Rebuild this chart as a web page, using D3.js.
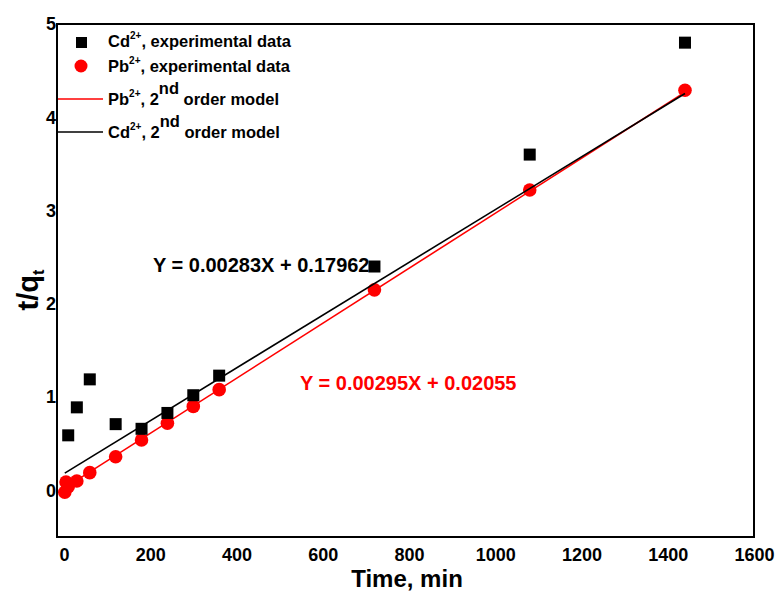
<!DOCTYPE html>
<html>
<head>
<meta charset="utf-8">
<script src="https://cdn.jsdelivr.net/npm/d3@7"></script>
<style>
  body { margin: 0; background: #fff; }
  svg { display: block; }
  text { font-family: "Liberation Sans", Arial, sans-serif; font-weight: bold; }
</style>
</head>
<body>
<svg id="chart" width="779" height="595"></svg>
<script>
// Pseudo-second-order kinetics: t/q_t versus contact time
const cdTime  = [10, 30, 60, 120, 180, 240, 300, 360, 720, 1080, 1440];
const cdValue = [0.59, 0.89, 1.19, 0.71, 0.66, 0.83, 1.02, 1.23, 2.40, 3.60, 4.80];
const pbTime  = [2, 5, 10, 30, 60, 120, 180, 240, 300, 360, 720, 1080, 1440];
const pbValue = [-0.02, 0.09, 0.04, 0.10, 0.19, 0.36, 0.54, 0.72, 0.90, 1.08, 2.15, 3.22, 4.29];

// Linear fits (slope, intercept) and the time span they cover
const fitIon       = ["Pb", "Cd"];
const fitSlope     = [0.00295, 0.00283];
const fitIntercept = [0.02055, 0.17962];
const fitColor     = ["#ff0000", "#000000"];
const fitSpan      = [2, 1440];

const xTicks = [0, 200, 400, 600, 800, 1000, 1200, 1400, 1600];
const yTicks = [0, 1, 2, 3, 4, 5];

const svg = d3.select("#chart");
const x = d3.scaleLinear().domain([-16, 1600]).range([57, 754]);
const y = d3.scaleLinear().domain([-0.5, 5]).range([537, 24]);

// Axes (labels only, no tick marks)
const xAxis = svg.append("g").attr("transform", `translate(0,${y(-0.5)})`)
  .call(d3.axisBottom(x).tickValues(xTicks).tickSize(0).tickPadding(11).tickFormat(d3.format("d")));
xAxis.select(".domain").remove();
xAxis.selectAll("text").attr("font-size", 18).attr("fill", "#000")
  .style("font-family", '"Liberation Sans", Arial, sans-serif').style("font-weight", "bold");

const yAxis = svg.append("g").attr("transform", `translate(${x(-16)},0)`)
  .call(d3.axisLeft(y).tickValues(yTicks).tickSize(0).tickPadding(1).tickFormat(d3.format("d")));
yAxis.select(".domain").remove();
yAxis.selectAll("text").attr("font-size", 18).attr("fill", "#000")
  .style("font-family", '"Liberation Sans", Arial, sans-serif').style("font-weight", "bold");

// Fitted lines
const fits = fitIon.map((ion, i) => ({ ion, slope: fitSlope[i], b: fitIntercept[i], color: fitColor[i] }));
const fitLine = d3.line().x(d => x(d[0])).y(d => y(d[1]));

function drawFit(f) {
  svg.append("path")
    .attr("d", fitLine(fitSpan.map(t => [t, f.slope * t + f.b])))
    .attr("fill", "none").attr("stroke", f.color).attr("stroke-width", 1.6);
}

drawFit(fits[0]);

// Pb2+ points
svg.append("g").selectAll("circle").data(pbTime.map((t, i) => [t, pbValue[i]])).join("circle")
  .attr("cx", d => x(d[0])).attr("cy", d => y(d[1])).attr("r", 6.8).attr("fill", "#ff0000");

// Cd2+ points
const sq = 12;
svg.append("g").selectAll("rect").data(cdTime.map((t, i) => [t, cdValue[i]])).join("rect")
  .attr("x", d => x(d[0]) - sq / 2).attr("y", d => y(d[1]) - sq / 2)
  .attr("width", sq).attr("height", sq).attr("fill", "#000");

drawFit(fits[1]);

// Frame
svg.append("rect").attr("x", x(-16)).attr("y", y(5))
  .attr("width", x(1600) - x(-16)).attr("height", y(-0.5) - y(5))
  .attr("fill", "none").attr("stroke", "#000").attr("stroke-width", 2);

// Fit equations
function fmtEq(f) {
  return `Y = ${f.slope.toFixed(5)}X + ${f.b.toFixed(5)}`;
}
svg.append("text").attr("x", 153).attr("y", 272).attr("font-size", 20).attr("fill", "#000").text(fmtEq(fits[1]));
svg.append("text").attr("x", 300).attr("y", 390).attr("font-size", 20).attr("fill", "#ff0000").text(fmtEq(fits[0]));

// Axis titles
svg.append("text").attr("x", 407).attr("y", 587).attr("text-anchor", "middle")
  .attr("font-size", 24).attr("fill", "#000").text("Time, min");

const yt = svg.append("text").attr("transform", "translate(38,290) rotate(-90)")
  .attr("text-anchor", "middle").attr("font-size", 29).attr("fill", "#000");
yt.append("tspan").text("t/q");
yt.append("tspan").attr("font-size", 16).attr("dy", 6).text("t");

// Legend
const legend = svg.append("g");
legend.append("rect").attr("x", 76).attr("y", 37).attr("width", 11).attr("height", 11).attr("fill", "#000");
legend.append("circle").attr("cx", 81).attr("cy", 66).attr("r", 6.5).attr("fill", "#ff0000");
legend.append("line").attr("x1", 58).attr("x2", 103).attr("y1", 99).attr("y2", 99)
  .attr("stroke", "#ff0000").attr("stroke-width", 1.6);
legend.append("line").attr("x1", 58).attr("x2", 103).attr("y1", 132).attr("y2", 132)
  .attr("stroke", "#000").attr("stroke-width", 1.6);

const legendRows = [
  { ion: "Cd", rest: ", experimental data", yb: 47, nd: false },
  { ion: "Pb", rest: ", experimental data", yb: 72, nd: false },
  { ion: "Pb", rest: ", 2", yb: 105, nd: true },
  { ion: "Cd", rest: ", 2", yb: 138, nd: true }
];
legendRows.forEach(r => {
  const t = legend.append("text").attr("x", 108).attr("y", r.yb).attr("font-size", 16.5).attr("fill", "#000");
  t.append("tspan").text(r.ion);
  t.append("tspan").attr("font-size", 10).attr("dy", -8).text("2+");
  t.append("tspan").attr("dy", 8).text(r.rest);
  if (r.nd) {
    t.append("tspan").attr("dy", -11).text("nd");
    t.append("tspan").attr("dy", 11).text(" order model");
  }
});
</script>
</body>
</html>
